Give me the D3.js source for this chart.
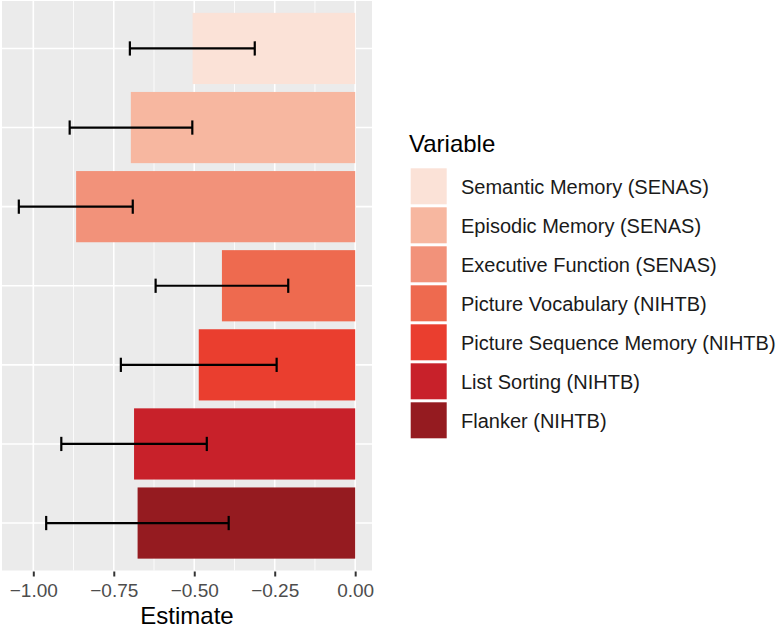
<!DOCTYPE html>
<html>
<head>
<meta charset="utf-8">
<script src="https://cdn.jsdelivr.net/npm/d3@7"></script>
<style>
  body { margin: 0; background: #fff; }
  svg { display: block; font-family: "Liberation Sans", Arial, sans-serif; }
</style>
</head>
<body>
<svg id="chart" width="776" height="628"></svg>
<script>
const categories = [
  "Semantic Memory (SENAS)",
  "Episodic Memory (SENAS)",
  "Executive Function (SENAS)",
  "Picture Vocabulary (NIHTB)",
  "Picture Sequence Memory (NIHTB)",
  "List Sorting (NIHTB)",
  "Flanker (NIHTB)"
];
const estimates = [-0.505, -0.697, -0.867, -0.414, -0.486, -0.687, -0.676];
const lowerCI   = [-0.700, -0.887, -1.045, -0.620, -0.728, -0.913, -0.960];
const upperCI   = [-0.312, -0.506, -0.691, -0.208, -0.244, -0.461, -0.393];
const colors = ["#fbe2d7", "#f7b7a0", "#f2927a", "#ee6a4f", "#ea3e2f", "#c8212a", "#951b20"];
const xTicks = [-1.00, -0.75, -0.50, -0.25, 0.00];
const xMinorTicks = [-0.875, -0.625, -0.375, -0.125];
const xTitle = "Estimate";
const legendTitle = "Variable";

const data = categories.map((c, i) => ({
  cat: c, est: estimates[i], lo: lowerCI[i], hi: upperCI[i], color: colors[i]
}));

const svg = d3.select("#chart");
const panel = { left: 2, right: 372, top: 1, bottom: 570.5 };

const dmin = d3.min(lowerCI.concat([0]));
const dmax = d3.max(upperCI.concat([0]));
const pad = 0.05 * (dmax - dmin);
const x = d3.scaleLinear().domain([dmin - pad, dmax + pad]).range([panel.left, panel.right]);
const y = d3.scaleBand().domain(categories).range([panel.top, panel.bottom])
  .paddingInner(0.1).paddingOuter(0.15);
const color = d3.scaleOrdinal().domain(categories).range(colors);

// panel background
svg.append("rect")
  .attr("x", panel.left).attr("y", panel.top)
  .attr("width", panel.right - panel.left).attr("height", panel.bottom - panel.top)
  .attr("fill", "#ebebeb");

// minor grid
svg.append("g").selectAll("line").data(xMinorTicks).join("line")
  .attr("x1", d => x(d)).attr("x2", d => x(d))
  .attr("y1", panel.top).attr("y2", panel.bottom)
  .attr("stroke", "#fff").attr("stroke-width", 0.8);
// major grid
svg.append("g").selectAll("line").data(xTicks).join("line")
  .attr("x1", d => x(d)).attr("x2", d => x(d))
  .attr("y1", panel.top).attr("y2", panel.bottom)
  .attr("stroke", "#fff").attr("stroke-width", 1.6);
svg.append("g").selectAll("line").data(categories).join("line")
  .attr("x1", panel.left).attr("x2", panel.right)
  .attr("y1", d => y(d) + y.bandwidth() / 2).attr("y2", d => y(d) + y.bandwidth() / 2)
  .attr("stroke", "#fff").attr("stroke-width", 1.6);

// bars
svg.append("g").selectAll("rect").data(data).join("rect")
  .attr("x", d => x(Math.min(0, d.est)))
  .attr("width", d => Math.abs(x(d.est) - x(0)))
  .attr("y", d => y(d.cat))
  .attr("height", y.bandwidth())
  .attr("fill", d => color(d.cat));

// error bars
const capH = y.step() * 0.18;
const eb = svg.append("g").attr("stroke", "#000").attr("stroke-width", 2.2).attr("fill", "none");
data.forEach(d => {
  const cy = y(d.cat) + y.bandwidth() / 2;
  eb.append("line").attr("x1", x(d.lo)).attr("x2", x(d.hi)).attr("y1", cy).attr("y2", cy);
  eb.append("line").attr("x1", x(d.lo)).attr("x2", x(d.lo)).attr("y1", cy - capH / 2).attr("y2", cy + capH / 2);
  eb.append("line").attr("x1", x(d.hi)).attr("x2", x(d.hi)).attr("y1", cy - capH / 2).attr("y2", cy + capH / 2);
});

// x axis
const xAxis = d3.axisBottom(x).tickValues(xTicks).tickFormat(d3.format(".2f")).tickSize(5).tickPadding(5);
const gx = svg.append("g").attr("transform", `translate(0,${panel.bottom + 1})`).call(xAxis);
gx.select(".domain").remove();
gx.selectAll(".tick line").attr("stroke", "#333").attr("stroke-width", 2);
gx.selectAll(".tick text").attr("fill", "#4d4d4d").attr("font-size", 19)
  .attr("font-family", "'Liberation Sans', Arial, sans-serif").attr("dy", "0.71em").attr("y", 12);

svg.append("text")
  .attr("x", (panel.left + panel.right) / 2).attr("y", 624)
  .attr("text-anchor", "middle").attr("font-size", 24).attr("fill", "#000")
  .text(xTitle);

// legend
const lg = svg.append("g");
lg.append("text").attr("x", 409).attr("y", 152).attr("font-size", 24).attr("fill", "#000").text(legendTitle);
const keyY0 = 168.3, keyStep = 39, keySize = 36;
const items = lg.selectAll("g.item").data(categories).join("g").attr("class", "item")
  .attr("transform", (d, i) => `translate(410.7,${keyY0 + i * keyStep})`);
items.append("rect").attr("width", keySize).attr("height", keySize).attr("fill", d => color(d));
items.append("text").attr("x", 50.3).attr("y", keySize / 2 + 7.3)
  .attr("font-size", 20).attr("fill", "#1a1a1a").text(d => d);
</script>
</body>
</html>
